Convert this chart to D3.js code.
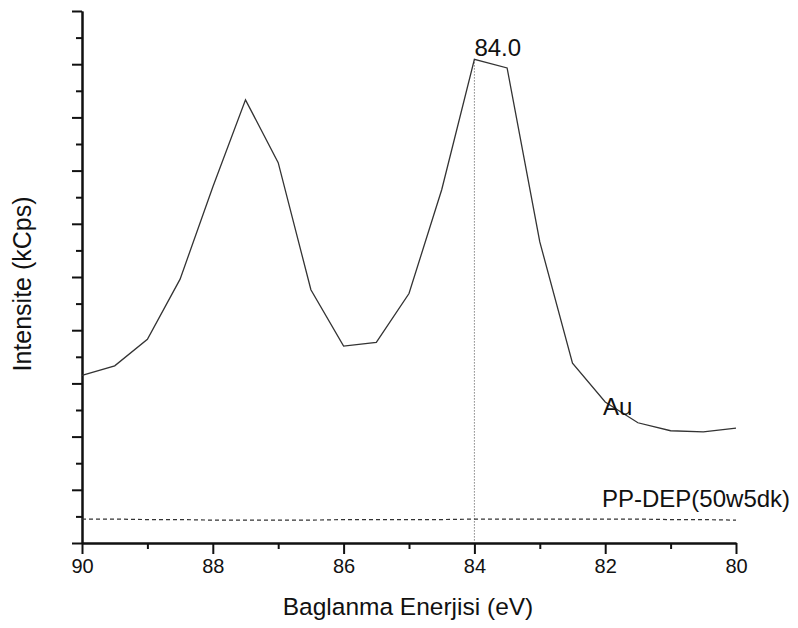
<!DOCTYPE html>
<html>
<head>
<meta charset="utf-8">
<script src="https://cdn.jsdelivr.net/npm/d3@7"></script>
<style>
  html, body { margin: 0; padding: 0; background: #fff; }
  svg { display: block; font-family: "Liberation Sans", Arial, sans-serif; }
</style>
</head>
<body>
<svg id="chart" width="798" height="628"></svg>
<script>
// Binding energy grid (eV), 0.5 eV steps from 90 down to 80
const energies = [90, 89.5, 89, 88.5, 88, 87.5, 87, 86.5, 86, 85.5, 85,
                  84.5, 84, 83.5, 83, 82.5, 82, 81.5, 81, 80.5, 80];
// Au 4f spectrum intensity (kCps)
const auValues = [3.15, 3.33, 3.83, 4.96, 6.69, 8.33, 7.15, 4.76, 3.70, 3.77, 4.69,
                  6.64, 9.09, 8.93, 5.66, 3.38, 2.65, 2.26, 2.11, 2.09, 2.16];
// PP-DEP(50w5dk) film spectrum intensity (kCps)
const ppValues = [0.45, 0.45, 0.44, 0.44, 0.43, 0.43, 0.43, 0.43, 0.44, 0.44, 0.44,
                  0.44, 0.45, 0.45, 0.45, 0.45, 0.45, 0.45, 0.44, 0.44, 0.43];
const xMajorTicks = [90, 88, 86, 84, 82, 80];
const xMinorTicks = [89, 87, 85, 83, 81];
const yMajorTicks = [0, 1, 2, 3, 4, 5, 6, 7, 8, 9, 10];
const yMinorTicks = [0.5, 1.5, 2.5, 3.5, 4.5, 5.5, 6.5, 7.5, 8.5, 9.5];
const peakEnergy = 84.0;
const peakValue = 9.09;

const svg = d3.select("#chart");
const plotLeft = 82, plotRight = 736, plotTop = 11, plotBottom = 543;

const x = d3.scaleLinear().domain([90, 80]).range([plotLeft, plotRight]);
const y = d3.scaleLinear().domain([0, 10]).range([plotBottom, plotTop]);

// Axes
const yMajor = d3.axisLeft(y).tickValues(yMajorTicks).tickFormat("").tickSize(10).tickSizeOuter(0);
const yMinor = d3.axisLeft(y).tickValues(yMinorTicks).tickFormat("").tickSize(6).tickSizeOuter(0);
const xMajor = d3.axisBottom(x).tickValues(xMajorTicks).tickFormat(d3.format("d")).tickSize(11).tickSizeOuter(0).tickPadding(5);
const xMinor = d3.axisBottom(x).tickValues(xMinorTicks).tickFormat("").tickSize(6).tickSizeOuter(0);

function styleAxis(g) {
  g.selectAll("path.domain").attr("stroke", "#111").attr("stroke-width", 2);
  g.selectAll(".tick line").attr("stroke", "#111").attr("stroke-width", 2);
  g.selectAll(".tick text").attr("fill", "#111").attr("font-size", 20)
    .attr("font-family", "'Liberation Sans', Arial, sans-serif");
}

svg.append("g").attr("transform", `translate(${plotLeft},0)`).call(yMinor).call(styleAxis);
svg.append("g").attr("transform", `translate(${plotLeft},0)`).call(yMajor).call(styleAxis);
svg.append("g").attr("transform", `translate(0,${plotBottom})`).call(xMinor).call(styleAxis);
svg.append("g").attr("transform", `translate(0,${plotBottom})`).call(xMajor).call(styleAxis);

// Axis titles
svg.append("text")
  .attr("x", 408).attr("y", 615)
  .attr("text-anchor", "middle").attr("font-size", 24.5).attr("fill", "#111")
  .text("Baglanma Enerjisi (eV)");
svg.append("text")
  .attr("transform", `translate(31,${284}) rotate(-90)`)
  .attr("text-anchor", "middle").attr("font-size", 25).attr("fill", "#111")
  .text("Intensite (kCps)");

const line = d3.line().x((d, i) => x(energies[i])).y(d => y(d));

// Peak marker
svg.append("line")
  .attr("x1", x(peakEnergy)).attr("x2", x(peakEnergy))
  .attr("y1", y(peakValue)).attr("y2", y(0))
  .attr("stroke", "#444").attr("stroke-width", 1).attr("stroke-dasharray", "1,2");

// PP-DEP spectrum
svg.append("path").datum(ppValues)
  .attr("d", line).attr("fill", "none")
  .attr("stroke", "#333").attr("stroke-width", 1.2).attr("stroke-dasharray", "4,3");

// Au spectrum
svg.append("path").datum(auValues)
  .attr("d", line).attr("fill", "none")
  .attr("stroke", "#333").attr("stroke-width", 1.3);

// Labels
svg.append("text").attr("x", x(peakEnergy)).attr("y", 56)
  .attr("font-size", 24).attr("fill", "#111").text(peakEnergy.toFixed(1));
svg.append("text").attr("x", 603).attr("y", 415)
  .attr("font-size", 24).attr("fill", "#111").text("Au");
svg.append("text").attr("x", 602).attr("y", 507)
  .attr("font-size", 24).attr("fill", "#111").text("PP-DEP(50w5dk)");
</script>
</body>
</html>
